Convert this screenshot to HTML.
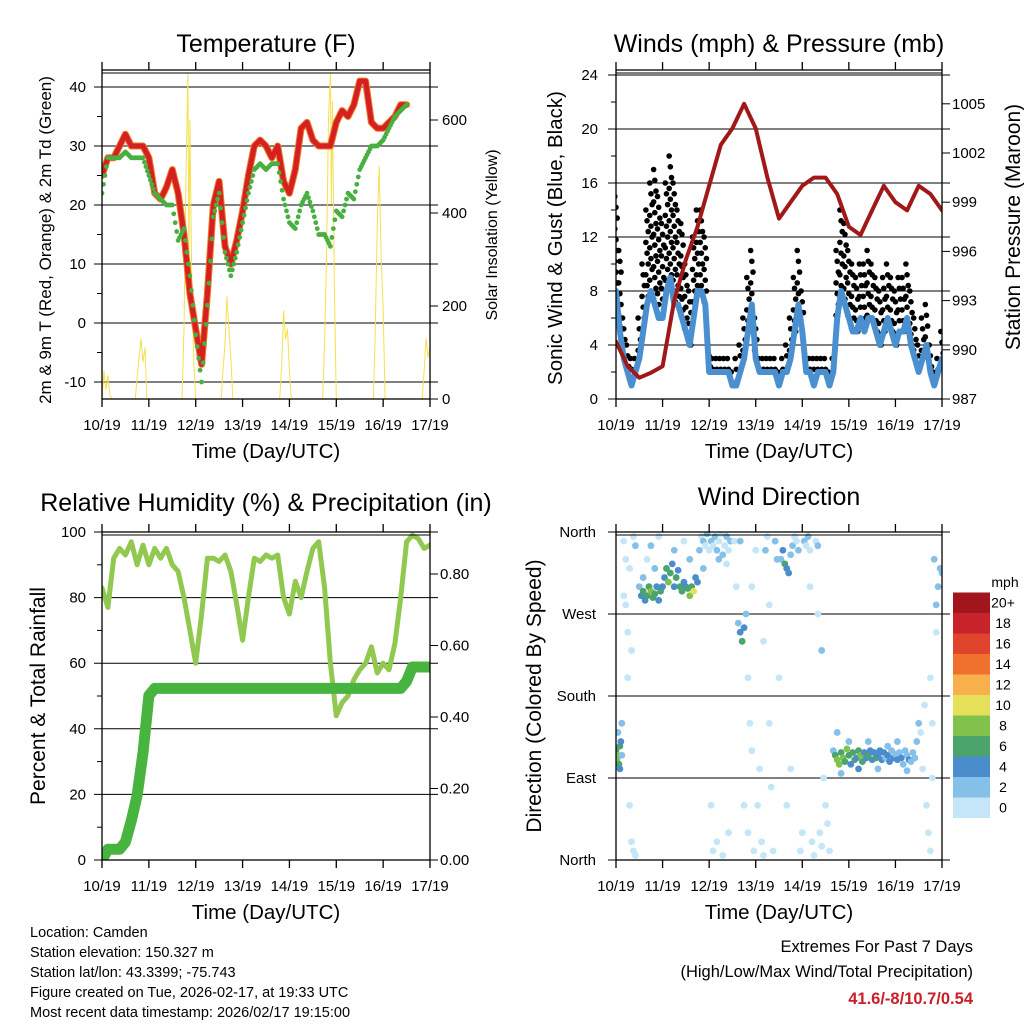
<!DOCTYPE html>
<html><head><meta charset="utf-8"><style>
body{margin:0;background:#fff}
svg{display:block}
text{font-family:"Liberation Sans",Arial,sans-serif;fill:#000}
</style></head><body>
<svg id="s" width="1024" height="1024" viewBox="0 0 1024 1024"></svg>
<script>
// ---------------- DATA ----------------
const dayLabels=["10/19","11/19","12/19","13/19","14/19","15/19","16/19","17/19"];
const tempTicks=[-10,0,10,20,30,40];
const solarTicks=[0,200,400,600];
const windTicks=[0,4,8,12,16,20,24];
const presTicks=[987,990,993,996,999,1002,1005];
const rhTicks=[0,20,40,60,80,100];
const precipTicks=[0,0.2,0.4,0.6,0.8];
const dirTicks=["North","East","South","West","North"];
const speedLabels=["0","2","4","6","8","10","12","14","16","18","20+"];
const speedColors=["#c4e6f8","#85c0e8","#4b8dcc","#4aa46c","#80c24c","#e4e05a","#f8b04c","#f0702e","#e0442c","#c8222a","#a0161c"];
// temperature (3-hour steps, 0..168h)
const tempRed=[25,28,28,30,32,30,30,30,28,22,21,23,26,22,15,5,-1,-7,5,20,24,13,10,14,19,25,30,31,30,28,30,24,22,26,33,34,31,30,30,30,34,36,35,37,41,41,34,33,33,34,35,37,37];
const tempGreen=[22,28,28,28,29,28,28,28,25,22,21,20,20,14,16,8,-2,-10,3,18,22,12,8,12,17,22,26,27,26,27,27,21,17,16,20,22,19,15,15,13,19,18,22,21,26,28,30,30,31,33,35,36,37];
const solarHours=[0,1,2,3,4,5,17,19,20,21,22,23,41,42,43,44,44.5,45,46,47,48,61,62,63,64,65,66,67,91,92,93,94,95,96,97,113,114,115,116,117,117.5,118,119,120,139,140,141,142,143,144,145,164,165,166,167,168];
const solarVals=[0,60,20,50,10,0,0,90,130,80,110,0,0,150,480,700,300,600,250,80,0,0,60,120,220,150,90,0,0,70,190,130,150,60,0,0,120,300,600,700,420,640,250,0,0,150,380,500,300,200,0,0,60,130,90,110];
// winds (2-hour steps)
const windMean=[8,5,3,2,1,2, 3,5,7,8,7,6, 6,8,9,7,7,6, 5,4,6,8,8,7, 2,2,2,2,2,2, 1,1,2,3,5,7, 3,2,2,2,2,2, 1,2,2,3,5,7, 5,2,2,1,2,2, 2,1,2,6,8,7, 6,5,5,6,5,6, 6,5,4,5,6,5, 4,5,5,6,4,3, 2,3,4,2,1,2, 3];
const windGust=[15,11,6,4,3,3, 6,10,14,16,17,15, 13,16,18,16,14,13, 10,8,12,14,14,12, 4,3,3,3,3,3, 2,3,4,6,9,11, 6,3,3,3,3,3, 2,3,4,6,9,11, 8,3,3,3,3,3, 3,2,3,11,14,13, 11,10,9,10,10,11, 10,9,8,9,10,9, 8,9,9,10,8,6, 4,6,7,4,2,3, 5];
const pressure=[990.5,989,988.3,988.6,989,993,995.5,997.5,1000,1002.5,1003.5,1005,1003.5,1000.5,998,999,1000,1000.5,1000.5,999.5,997.5,997,998.5,1000,999,998.5,1000,999.5,998.5];
// humidity & precip (3-hour steps)
const rh=[83,77,92,95,93,97,90,96,90,95,92,95,90,88,80,70,60,75,92,92,91,93,88,78,67,80,92,91,93,92,93,80,75,85,80,88,95,97,83,60,44,48,50,55,58,60,65,57,60,58,66,80,97,99,98,95,96];
const precip=[0,0.03,0.03,0.03,0.05,0.11,0.18,0.30,0.46,0.48,0.48,0.48,0.48,0.48,0.48,0.48,0.48,0.48,0.48,0.48,0.48,0.48,0.48,0.48,0.48,0.48,0.48,0.48,0.48,0.48,0.48,0.48,0.48,0.48,0.48,0.48,0.48,0.48,0.48,0.48,0.48,0.48,0.48,0.48,0.48,0.48,0.48,0.48,0.48,0.48,0.48,0.48,0.50,0.54,0.54,0.54,0.54];
// wind direction: hour, degrees, speed
const dirHours=[0,0.5,1,1.5,2,2.5,3,1,2,3, 4,5,5,6,6,7,7,8,9,9,10,10,4,8, 12,13,14,15,16,17,18,19,20,21,22,23,24,14,16,18,20,22, 25,26,27,28,29,30,31,32,33,34,35,36,37,38,39,40,41,42,30,35,38, 43,44,45,46,47,48,45, 49,50,51,52,53,54,55,56,57,58,59,50,52,55,58,49,53,57, 61,62,63,64,65,66,67,68,69,70,66,68,71,72,64,70, 73,74,75,76,77,78,79,80,81,82,83,84,76,79, 85,86,87,88,89,90,91,92,93,94,95,96,88,90, 97,98,99,100,101,102,103,104,105,106,107,108,109,110,100,104,106, 112,113,114,115,116,117,118,119,120,121,122,123,124,125,126,127,128,129,130,131,132,133,134,135,136,137,138,139,140,141,142,143,144,145,146,147,148,149,150,151,152,153,154,155,156,157,158,159, 114,116,120,125,130,135,140,145,150, 160,161,162,163,164,165,166,167,168,165,163,162];
const dirDeg=[120,110,115,105,125,130,115,140,100,150, 350,330,280,250,200,320,60,20,10,355,345,5,290,230, 300,290,295,285,290,300,295,288,292,300,285,295,300,310,330,345,320,355, 310,320,305,315,325,300,310,318,300,295,305,300,298,290,300,295,310,305,340,350,330, 340,355,350,345,358,340,320, 350,345,355,340,350,358,335,345,355,340,350,10,20,5,30,60,330,325, 350,300,260,250,240,255,270,200,150,120,60,30,10,340,350,300, 60,100,20,5,340,355,150,80,10,350,330,200,240,280, 330,340,325,320,315,335,345,355,350,340,10,30,60,100, 350,345,355,340,20,5,350,345,30,15,90,60,40,10,300,270,230, 120,115,110,105,118,112,108,122,115,105,118,110,112,120,115,108,118,112,115,120,110,118,112,115,120,110,118,112,115,108,120,112,116,110,118,112,105,120,115,110,108,118,112,130,150,140,100,170, 140,95,130,100,130,100,125,130,98, 60,30,10,90,330,250,300,320,315,280,150,200];
const dirSpd=[6,8,9,7,6,4,3,2,5,2, 1,1,1,0,1,1,1,1,1,1,2,1,1,1, 2,4,6,5,7,6,8,6,7,5,4,6,4,2,1,2,2,1, 5,7,8,6,5,4,6,5,7,6,4,5,6,8,7,10,5,4,2,1,2, 2,1,2,1,2,1,2, 2,1,2,2,1,1,2,1,2,1,2,1,1,0,1,1,2,1, 1,1,3,5,6,4,3,1,1,1,1,1,1,1,2,1, 1,1,1,1,2,1,1,1,1,2,2,1,1,1, 2,4,6,5,4,3,2,1,1,2,1,1,1,1, 2,1,2,1,1,1,1,2,1,1,1,1,1,1,1,1,2, 3,6,8,9,7,8,6,9,7,5,6,7,5,6,8,7,5,4,6,5,4,5,6,4,4,5,4,3,4,4,3,4,3,4,3,4,3,2,3,4,3,2,3,2,2,1,1,1, 2,2,3,4,3,3,2,2,2, 1,1,1,1,2,1,2,3,2,2,1,1];

// ---------------- DRAWING ----------------
const NS="http://www.w3.org/2000/svg";
const svg=document.getElementById('s');
function mk(tag,attrs,parent){const e=document.createElementNS(NS,tag);for(const k in attrs)e.setAttribute(k,attrs[k]);(parent||svg).appendChild(e);return e;}
function txt(x,y,s,size,anchor,extra){const e=mk('text',Object.assign({x:x,y:y,'font-size':size,'text-anchor':anchor||'middle'},extra||{}));e.textContent=s;return e;}

const P1={x0:102,x1:430,y0:70,y1:399}, P2={x0:616,x1:942,y0:70,y1:399};
const P3={x0:102,x1:430,y0:532,y1:860}, P4={x0:616,x1:942,y0:532,y1:860};
function xs(P,h){return P.x0+h*(P.x1-P.x0)/168;}
const yTemp=t=>323-t*5.9, ySolar=v=>399-v*0.465;
const yWind=v=>399-v*13.5, yPres=p=>399-(p-987)*16.4;
const yRh=r=>860-r*3.28, yPrecip=p=>860-p*357.5;
const yDir=d=>860-d*328/360;
const TICK=15;

function frame(P,name){
  const r=mk('rect',{x:P.x0,y:P.y0,width:P.x1-P.x0,height:P.y1-P.y0,fill:'none',stroke:'#000','stroke-width':1.3});
  
  
  const t=mk('line',{x1:P.x0,x2:P.x1,y1:P.y0+3,y2:P.y0+3,stroke:'#000','stroke-width':1});
  
  
  for(let i=0;i<dayLabels.length;i++){
    const x=xs(P,i*24);
    const tk=mk('line',{x1:x,x2:x,y1:P.y1,y2:P.y1+8,stroke:'#000','stroke-width':1.3});
    
    
    const tt=mk('line',{x1:x,x2:x,y1:P.y0-8,y2:P.y0,stroke:'#000','stroke-width':1.3});
    
    
    const l=txt(x,P.y1+31,dayLabels[i],TICK);
    
    
  }
  const xt=txt((P.x0+P.x1)/2,P.y1+59,'Time (Day/UTC)',20.5);
  
  
}
function grid(P,y,name){
  const g=mk('line',{x1:P.x0-8,x2:P.x1+8,y1:y,y2:y,stroke:'#000','stroke-width':1});
  
  
}
function minor(x,y){
  const m=mk('line',{x1:x-5,x2:x,y1:y,y2:y,stroke:'#000','stroke-width':1});
  
  
}
function poly(pts,color,w,name){
  const p=mk('polyline',{points:pts.map(a=>a[0].toFixed(1)+','+a[1].toFixed(1)).join(' '),fill:'none',stroke:color,'stroke-width':w,'stroke-linejoin':'round','stroke-linecap':'round'});
  
  
  return p;
}
function clip(P,id){const c=mk('clipPath',{id:id});mk('rect',{x:P.x0,y:P.y0,width:P.x1-P.x0,height:P.y1-P.y0},c);}

// ===== Panel 1: Temperature =====
clip(P1,'c1');
let t1=txt(266,52,'Temperature (F)',25);


tempTicks.forEach(v=>{grid(P1,yTemp(v),'temp-gridline');if(v<40)minor(P1.x0,yTemp(v+5));
  const l=txt(86,yTemp(v)+5,String(v),TICK,'end');
  
  });
minor(P1.x0,yTemp(-5));
solarTicks.forEach(v=>{
  const tk=mk('line',{x1:P1.x1,x2:P1.x1+8,y1:ySolar(v),y2:ySolar(v),stroke:'#000'});
  
  
  const l=txt(442,ySolar(v)+5,String(v),TICK,'start');
  
  });
let g1=mk('g',{'clip-path':'url(#c1)'});


let sp=poly(solarHours.map((h,i)=>[xs(P1,h),ySolar(solarVals[i])]),'#f6e04e',1,'solar-insolation-line');g1.appendChild(sp);
let rp=poly(tempRed.map((v,i)=>[xs(P1,i*3),yTemp(v)]),'#f07828',7,'temp-9m-line');g1.appendChild(rp);
let rp2=poly(tempRed.map((v,i)=>[xs(P1,i*3),yTemp(v)]),'#d42020',5,'temp-2m-line');g1.appendChild(rp2);
tempGreen.forEach((v,i)=>{
  const c=mk('circle',{cx:xs(P1,i*3),cy:yTemp(v),r:2.4,fill:'#48b040'},g1);
  
  
  if(i<tempGreen.length-1){for(let k=1;k<4;k++){const f=k/4;
    const c2=mk('circle',{cx:xs(P1,(i+f)*3),cy:yTemp(v+(tempGreen[i+1]-v)*f),r:2.4,fill:'#48b040'},g1);
    
    }}
});
frame(P1,'temperature');
let a1=txt(0,0,'2m & 9m T (Red, Orange) & 2m Td (Green)',17,'middle',{transform:'translate(51,240) rotate(-90)'});


let a1r=txt(0,0,'Solar Insolation (Yellow)',16,'middle',{transform:'translate(497,235) rotate(-90)'});



// ===== Panel 2: Winds =====
clip(P2,'c2');
let t2=txt(779,52,'Winds (mph) & Pressure (mb)',25);


windTicks.forEach(v=>{grid(P2,yWind(v),'wind-gridline');if(v<24)minor(P2.x0,yWind(v+2));
  const l=txt(598,yWind(v)+5,String(v),TICK,'end');
  
  });
presTicks.forEach(v=>{
  const tk=mk('line',{x1:P2.x1,x2:P2.x1+8,y1:yPres(v),y2:yPres(v),stroke:'#000'});
  
  
  const l=txt(952,yPres(v)+5,String(v),TICK,'start');
  
  });
let g2=mk('g',{'clip-path':'url(#c2)'});


windGust.forEach((gv,i)=>{
  const wv=windMean[i];
  let n=0;
  for(let v=gv;v>=wv;v-=0.8){
    const h=i*2+((n%3)-1)*0.6;
    const c=mk('circle',{cx:xs(P2,h),cy:yWind(v),r:2.8,fill:'#000'},g2);
    
    
    n++;
  }
});
let wl=poly(windMean.map((v,i)=>[xs(P2,i*2),yWind(v)]),'#4a90d0',6,'sonic-wind-line');g2.appendChild(wl);
let pl=poly(pressure.map((v,i)=>[xs(P2,i*6),yPres(v)]),'#a01818',4,'pressure-line');g2.appendChild(pl);
frame(P2,'winds');
let a2=txt(0,0,'Sonic Wind & Gust (Blue, Black)',20.5,'middle',{transform:'translate(562,238) rotate(-90)'});


let a2r=txt(0,0,'Station Pressure (Maroon)',21,'middle',{transform:'translate(1020,227) rotate(-90)'});



// ===== Panel 3: RH & Precip =====
clip(P3,'c3');
let t3=txt(266,511,'Relative Humidity (%) & Precipitation (in)',25);


rhTicks.forEach(v=>{grid(P3,yRh(v),'rh-gridline');if(v<100)minor(P3.x0,yRh(v+10));
  const l=txt(86,yRh(v)+5,String(v),TICK,'end');
  
  });
precipTicks.forEach(v=>{
  const tk=mk('line',{x1:P3.x1,x2:P3.x1+8,y1:yPrecip(v),y2:yPrecip(v),stroke:'#000'});
  
  
  const l=txt(440,yPrecip(v)+5,v.toFixed(2),TICK,'start');
  
  });
let g3=mk('g',{'clip-path':'url(#c3)'});


let rl=poly(rh.map((v,i)=>[xs(P3,i*3),yRh(v)]),'#90c850',5,'rh-line');g3.appendChild(rl);
let pr=poly(precip.map((v,i)=>[xs(P3,i*3),yPrecip(v)]),'#48b440',11,'precip-line');g3.appendChild(pr);
frame(P3,'humidity');
let a3=txt(0,0,'Percent & Total Rainfall',21,'middle',{transform:'translate(45,696) rotate(-90)'});



// ===== Panel 4: Wind direction =====
clip(P4,'c4');
let t4=txt(779,505,'Wind Direction',25);


dirTicks.forEach((s,i)=>{const y=yDir(i*90);grid(P4,y,'direction-gridline');
  const l=txt(596,y+5,s,TICK,'end');
  
  });
let g4=mk('g',{'clip-path':'url(#c4)'});


dirHours.forEach((h,i)=>{
  const b=Math.min(10,Math.floor(dirSpd[i]/2));
  const c=mk('circle',{cx:xs(P4,h),cy:yDir(dirDeg[i]),r:3.4,fill:speedColors[b]},g4);
  
  
});
frame(P4,'direction');
let a4=txt(0,0,'Direction (Colored By Speed)',21,'middle',{transform:'translate(541,696) rotate(-90)'});


// colorbar
let mph=txt(1005,587,'mph',14);


speedLabels.forEach((s,i)=>{
  const y=818-(i+1)*20.5;
  const r=mk('rect',{x:953,y:y,width:37,height:20.5,fill:speedColors[i]});
  
  
  const l=txt(1003,y+15,s,14);
  
  
});

// ===== Footer text =====
const info=["Location: Camden","Station elevation: 150.327 m","Station lat/lon: 43.3399; -75.743","Figure created on Tue, 2026-02-17, at 19:33 UTC","Most recent data timestamp: 2026/02/17 19:15:00"];
info.forEach((s,i)=>{const l=txt(30,937+i*20,s,14.5,'start');
  
  });
let e1=txt(973,952,'Extremes For Past 7 Days',16.5,'end');


let e2=txt(973,977,'(High/Low/Max Wind/Total Precipitation)',16.5,'end');


let e3=txt(973,1004,'41.6/-8/10.7/0.54',16.5,'end',{'font-weight':'bold',style:'fill:#c82028'});


</script>
</body></html>
